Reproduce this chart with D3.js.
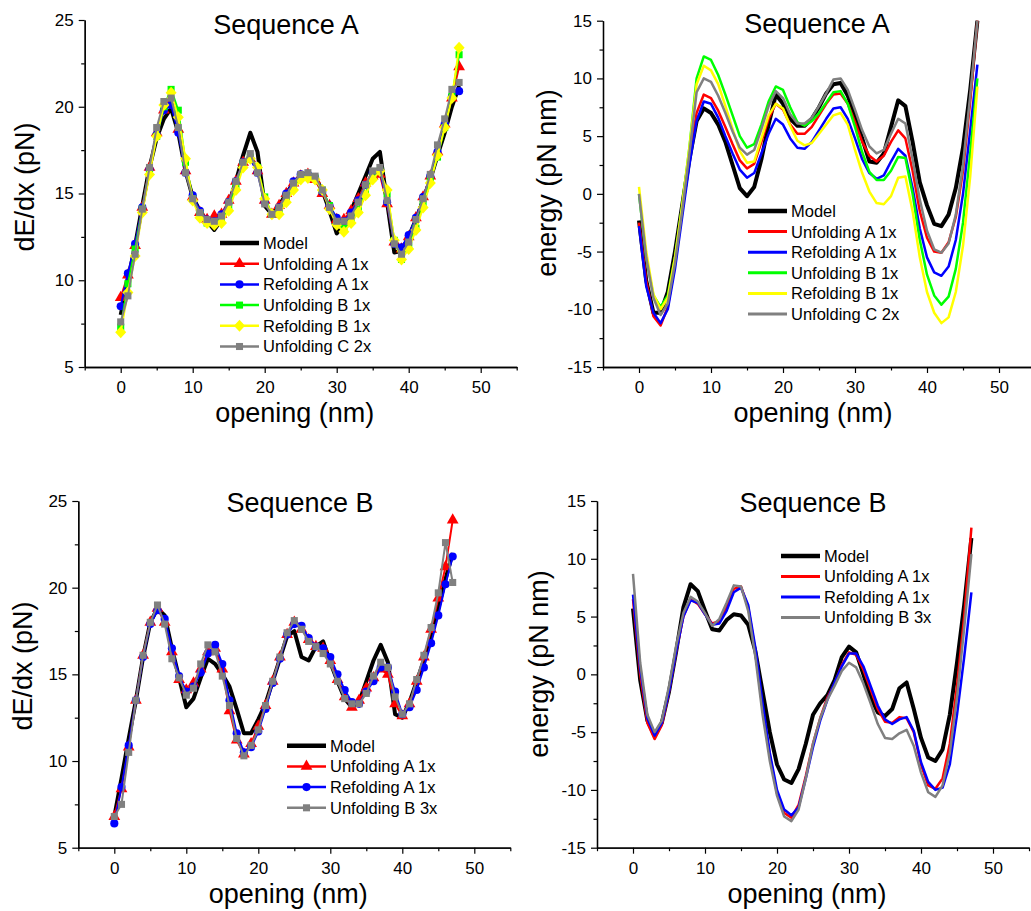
<!DOCTYPE html>
<html>
<head>
<meta charset="utf-8">
<script src="https://cdn.jsdelivr.net/npm/d3@7"></script>
<style>
  body { margin: 0; background: #fff; }
  svg { display: block; font-family: "Liberation Sans", Arial, sans-serif; }
</style>
</head>
<body>
<svg id="chart" width="1031" height="911"></svg>
<script>
// opening (nm), shared x values
var opening = [0,1,2,3,4,5,6,7,8,9,10,11,12,13,14,15,16,17,18,19,20,21,22,23,24,25,26,27,28,29,30,31,32,33,34,35,36,37,38,39,40,41,42,43,44,45,46,47];

var xTicks = [0, 10, 20, 30, 40, 50];
var forceTicks = [5, 10, 15, 20, 25];
var energyTicks = [-15, -10, -5, 0, 5, 10, 15];

// Sequence A, dE/dx (pN)
var seqA_force_model = [8.0,10.0,12.0,14.3,16.5,18.2,19.3,19.9,18.5,16.3,14.8,14.0,13.4,12.9,13.5,14.4,15.7,17.2,18.5,17.4,14.3,13.8,14.3,15.0,15.6,16.0,16.1,15.9,15.2,14.0,12.7,13.2,14.0,15.0,16.0,17.0,17.4,14.5,11.6,11.7,12.5,13.5,14.6,15.8,17.2,18.5,20.0,21.2];
var seqA_force_unfA = [9.0,10.3,12.0,14.2,16.5,18.5,19.8,20.3,18.7,16.3,14.8,13.9,13.5,13.7,13.8,14.6,15.7,16.8,17.0,16.3,14.6,13.8,14.3,15.0,15.6,16.0,16.1,15.8,15.0,14.3,13.5,13.5,14.0,14.7,15.6,16.0,16.1,14.4,12.2,11.8,12.5,13.6,14.8,16.0,17.4,19.0,20.5,22.3];
var seqA_force_refA = [8.5,10.4,12.1,14.2,16.4,18.4,19.8,20.1,18.5,16.2,14.9,14.0,13.5,13.4,13.8,14.5,15.7,16.8,17.0,16.2,14.5,13.8,14.2,15.0,15.7,16.1,16.1,15.9,15.1,14.3,13.6,13.4,13.9,14.6,15.5,16.2,16.3,14.5,12.1,11.9,12.6,13.6,14.8,16.0,17.4,19.0,20.6,20.9];
var seqA_force_unfB = [7.3,9.8,11.8,14.1,16.4,18.3,20.0,21.0,19.8,16.8,14.7,13.8,13.3,13.3,13.5,14.2,15.4,16.7,17.1,16.5,14.8,13.8,14.0,14.8,15.4,15.9,16.0,15.9,15.2,14.3,13.3,13.0,13.4,14.1,15.0,15.9,16.3,15.0,12.3,11.2,12.0,13.0,14.4,15.8,17.1,18.8,20.6,23.0];
var seqA_force_refB = [7.0,9.3,11.4,13.9,16.1,18.3,20.1,20.8,19.4,17.0,14.6,13.6,13.3,13.2,13.3,14.0,15.2,16.5,17.0,16.5,14.7,13.8,13.8,14.5,15.2,15.8,15.9,15.8,15.2,14.1,13.2,12.8,13.3,13.9,14.9,15.8,16.3,15.2,12.3,11.2,11.8,12.9,14.2,15.6,17.2,18.8,20.5,23.4];
var seqA_force_unfC = [7.6,9.1,11.5,14.1,16.5,18.8,20.3,20.5,18.8,16.2,14.7,13.9,13.5,13.4,13.7,14.5,15.7,16.8,17.3,16.2,14.4,13.8,14.2,14.9,15.6,16.1,16.2,16.0,15.2,14.2,13.4,13.4,13.7,14.5,15.5,16.3,16.5,14.6,12.1,11.5,12.2,13.5,14.7,16.1,17.8,19.3,21.0,21.4];

// Sequence A, energy (pN nm)
var seqA_energy_model = [-2.3,-7.5,-10.3,-10.3,-8.5,-5.0,-1.0,3.0,6.3,7.4,7.0,6.0,4.5,2.5,0.5,-0.2,0.6,3.0,6.0,8.6,7.8,6.5,5.9,5.9,6.5,7.5,8.7,9.5,9.6,8.5,6.8,4.8,2.8,2.7,3.5,5.8,8.1,7.6,4.5,1.0,-1.0,-2.6,-2.8,-1.8,0.5,4.0,9.0,15.0];
var seqA_energy_unfA = [-2.5,-7.5,-10.6,-11.4,-9.8,-6.0,-1.5,3.0,7.0,8.6,8.3,7.2,5.8,4.3,2.9,2.2,2.6,4.5,6.5,7.8,7.3,6.0,5.2,5.2,5.8,6.8,7.8,8.6,8.7,7.8,6.2,4.5,3.3,2.8,3.3,4.5,5.5,4.8,2.0,-1.5,-3.8,-5.0,-5.1,-4.2,-2.0,2.0,8.0,15.0];
var seqA_energy_refA = [-2.8,-8.0,-10.3,-11.2,-10.0,-6.5,-2.0,2.5,6.3,8.0,7.8,6.6,5.0,3.5,2.1,1.4,1.8,3.5,5.2,6.5,6.0,4.8,4.0,3.9,4.5,5.5,6.5,7.4,7.5,6.5,4.8,3.0,1.8,1.3,1.6,2.8,3.9,3.3,0.5,-3.0,-5.5,-6.8,-7.1,-6.3,-4.0,0.0,5.5,11.2];
var seqA_energy_unfB = [0.0,-5.5,-8.8,-9.8,-8.8,-5.5,-1.0,4.0,10.0,11.9,11.6,10.3,8.6,6.8,5.0,4.0,4.3,6.0,8.0,9.3,9.0,7.5,6.2,5.9,6.3,7.0,7.9,8.8,8.9,7.8,5.8,3.6,1.9,1.2,1.2,2.0,3.2,3.1,0.0,-4.0,-7.0,-8.8,-9.6,-8.9,-6.5,-2.5,3.5,10.0];
var seqA_energy_refB = [0.6,-5.0,-8.7,-10.0,-9.0,-5.5,-1.0,4.0,9.5,11.1,10.7,9.5,7.6,5.6,3.7,2.7,2.8,4.8,6.8,7.8,7.4,5.9,4.6,4.2,4.4,5.2,6.0,6.8,7.0,6.0,3.8,1.8,0.2,-0.8,-0.9,-0.2,1.4,1.5,-1.5,-5.5,-8.5,-10.3,-11.2,-10.7,-8.5,-4.5,1.5,9.3];
var seqA_energy_unfC = [0.0,-5.5,-9.0,-10.5,-9.5,-6.0,-1.5,3.5,8.8,10.0,9.7,8.5,7.0,5.4,4.0,3.4,3.8,5.6,7.6,8.9,8.3,6.9,6.1,6.1,6.6,7.6,8.7,9.9,10.0,9.0,7.3,5.5,4.1,3.5,3.8,5.2,6.5,6.1,3.0,-0.5,-3.2,-4.8,-5.1,-4.3,-1.8,2.5,8.5,15.0];

// Sequence B, dE/dx (pN)
var seqB_force_model = [6.8,9.0,11.3,13.5,16.0,18.0,18.8,18.4,16.5,14.8,13.1,13.6,14.8,15.9,15.6,15.0,14.3,13.0,11.6,11.6,12.4,13.3,14.6,15.9,17.2,17.5,16.0,15.8,16.6,16.9,15.7,14.6,13.6,13.1,13.4,14.6,15.8,16.7,15.7,12.7,12.5,13.4,14.6,15.8,17.2,18.8,20.5,22.0];
var seqB_force_unfA = [6.8,8.4,10.8,13.5,16.1,18.0,18.8,18.0,16.3,14.7,14.1,14.5,15.3,16.3,16.5,15.3,12.9,11.2,10.4,11.0,12.0,13.2,14.6,16.0,17.3,18.0,17.6,17.0,16.6,16.5,15.8,14.7,13.7,13.1,13.5,14.2,14.8,15.3,15.0,13.3,12.6,13.3,14.6,16.0,17.6,19.4,21.2,23.9];
var seqB_force_refA = [6.4,8.5,10.9,13.5,16.0,17.9,18.7,18.2,16.5,14.9,14.0,14.3,15.1,16.2,16.7,15.6,13.5,11.6,10.5,10.8,11.7,13.0,14.5,15.9,17.3,17.9,17.8,17.1,16.6,16.5,16.0,15.0,14.1,13.4,13.3,14.0,14.6,15.4,15.4,14.0,12.7,13.1,14.1,15.4,16.8,18.4,20.2,21.8];
var seqB_force_unfB = [6.8,7.5,10.5,13.5,16.1,18.0,19.0,17.9,15.9,14.8,13.8,14.2,15.6,16.7,16.3,14.9,13.2,11.3,10.3,10.9,11.8,13.2,14.6,16.0,17.4,18.1,17.6,16.9,16.6,16.2,15.6,14.6,13.6,13.3,13.3,13.9,14.9,15.7,15.4,13.7,12.7,13.3,14.7,16.1,17.7,19.7,22.6,20.3];

// Sequence B, energy (pN nm)
var seqB_energy_model = [5.7,-0.5,-4.0,-5.3,-4.2,-1.5,2.0,5.8,7.8,7.2,5.5,3.9,3.8,4.7,5.2,5.1,4.3,2.0,-1.5,-5.0,-7.8,-9.1,-9.4,-8.2,-6.0,-3.5,-2.5,-1.8,-0.5,1.5,2.4,1.9,0.0,-2.0,-3.3,-3.6,-3.0,-1.2,-0.7,-3.0,-5.5,-7.2,-7.5,-6.5,-3.5,1.0,6.0,11.8];
var seqB_energy_unfA = [6.5,0.0,-4.2,-5.6,-4.4,-1.5,2.0,5.0,6.5,6.1,5.2,4.4,4.6,5.8,7.4,7.6,5.8,2.0,-3.0,-7.0,-10.3,-12.0,-12.4,-11.3,-8.8,-6.0,-3.8,-2.0,-0.8,0.8,1.9,1.7,0.4,-1.3,-3.0,-4.1,-4.2,-3.7,-3.8,-5.0,-7.8,-9.6,-9.9,-9.0,-6.0,-1.0,5.0,12.7];
var seqB_energy_refA = [6.9,0.5,-3.8,-5.3,-4.2,-1.5,2.0,5.0,6.4,6.2,5.2,4.3,4.4,5.5,7.1,7.5,6.0,2.3,-2.5,-6.8,-10.0,-11.7,-12.2,-11.5,-9.0,-6.3,-4.0,-2.2,-0.7,0.7,1.8,1.8,0.7,-1.0,-2.7,-3.9,-4.3,-3.9,-3.7,-4.9,-7.6,-9.3,-10.0,-9.8,-7.8,-3.5,1.5,7.1];
var seqB_energy_unfB = [8.7,1.0,-3.5,-5.0,-4.0,-1.0,2.5,5.3,6.7,6.3,5.3,4.2,4.8,6.2,7.7,7.6,5.5,1.5,-3.5,-7.5,-10.5,-12.3,-12.7,-11.7,-9.0,-6.0,-3.8,-2.2,-1.0,0.3,1.0,0.6,-0.8,-2.5,-4.3,-5.5,-5.6,-5.1,-4.8,-6.2,-8.5,-10.2,-10.6,-9.6,-6.8,-2.0,4.0,10.4];

var svg = d3.select("#chart");

// diamond like the plotting program's, wider than d3.symbolDiamond
function markerPath(kind) {
  if (kind == "diamond") return "M0,-6L5.5,0L0,6L-5.5,0Z";
  var sym = { triangle: d3.symbolTriangle, circle: d3.symbolCircle, square: d3.symbolSquare }[kind];
  var size = { triangle: 60, circle: 52, square: 50 }[kind];
  return d3.symbol().type(sym).size(size)();
}

function drawPanel(p) {
  var x = d3.scaleLinear().domain([-5, 55]).range([p.left, p.left + 432]);
  var y = d3.scaleLinear().domain(p.yDomain).range([p.bottom, p.top]);
  var g = svg.append("g");

  // minor ticks first, then the majors with labels
  var minorX = [];
  for (var v = -5; v <= 55; v += 5) if (xTicks.indexOf(v) < 0) minorX.push(v);
  var minorY = [];
  for (var w = p.yDomain[0]; w <= p.yDomain[1]; w += 2.5) if (p.yTicks.indexOf(w) < 0) minorY.push(w);

  g.append("g").attr("transform", "translate(0," + p.bottom + ")")
    .call(d3.axisBottom(x).tickValues(minorX).tickSize(3.5).tickFormat("").tickSizeOuter(0));
  g.append("g").attr("transform", "translate(" + p.left + ",0)")
    .call(d3.axisLeft(y).tickValues(minorY).tickSize(3.5).tickFormat("").tickSizeOuter(0));

  var xa = g.append("g").attr("transform", "translate(0," + p.bottom + ")")
    .call(d3.axisBottom(x).tickValues(xTicks).tickSize(6).tickPadding(8)
      .tickFormat(function(d) { return String(d); }).tickSizeOuter(0));
  var ya = g.append("g").attr("transform", "translate(" + p.left + ",0)")
    .call(d3.axisLeft(y).tickValues(p.yTicks).tickSize(6).tickPadding(5)
      .tickFormat(function(d) { return String(d); }).tickSizeOuter(0));
  g.selectAll(".domain").attr("stroke", "#000").attr("stroke-width", 1.3);
  g.selectAll(".tick line").attr("stroke", "#000").attr("stroke-width", 1.2);
  xa.selectAll("text").attr("font-size", 17).attr("font-family", "Liberation Sans, Arial").attr("fill", "#000");
  ya.selectAll("text").attr("font-size", 17).attr("font-family", "Liberation Sans, Arial").attr("fill", "#000");

  // titles
  g.append("text").attr("x", p.titleX).attr("y", p.titleY)
    .attr("text-anchor", "middle").attr("font-size", 27).text(p.title);
  g.append("text").attr("x", (p.left + p.left + 432) / 2 - 6).attr("y", p.bottom + 55)
    .attr("text-anchor", "middle").attr("font-size", 27).text("opening (nm)");
  g.append("text")
    .attr("transform", "translate(" + p.yLabelX + "," + p.yLabelY + ") rotate(-90)")
    .attr("text-anchor", "middle").attr("font-size", 27).text(p.yLabel);

  var line = d3.line()
    .x(function(d, i) { return x(opening[i]); })
    .y(function(d) { return y(d); });

  p.series.forEach(function(s) {
    g.append("path").datum(s.values)
      .attr("d", line)
      .attr("fill", "none")
      .attr("stroke", s.color)
      .attr("stroke-width", s.width)
      .attr("stroke-linejoin", "round");
    if (s.marker) {
      g.selectAll(null).data(s.values).enter().append("path")
        .attr("d", markerPath(s.marker))
        .attr("transform", function(d, i) { return "translate(" + x(opening[i]) + "," + y(d) + ")"; })
        .attr("fill", s.color);
    }
  });

  // legend
  p.series.forEach(function(s, i) {
    var ly = p.legendY + i * p.legendStep;
    g.append("line")
      .attr("x1", p.legendX).attr("x2", p.legendX + 39)
      .attr("y1", ly).attr("y2", ly)
      .attr("stroke", s.color).attr("stroke-width", s.width + 0.5);
    if (s.marker) {
      g.append("path").attr("d", markerPath(s.marker))
        .attr("transform", "translate(" + (p.legendX + 19.5) + "," + ly + ")")
        .attr("fill", s.color);
    }
    g.append("text").attr("x", p.legendX + 43).attr("y", ly).attr("dy", "0.36em")
      .attr("font-size", 16.5).text(s.name);
  });
}

drawPanel({
  left: 84.7, top: 20, bottom: 367, yDomain: [5, 25], yTicks: forceTicks,
  title: "Sequence A", titleX: 286, titleY: 34,
  yLabel: "dE/dx (pN)", yLabelX: 34, yLabelY: 187,
  legendX: 220, legendY: 243, legendStep: 20.7,
  series: [
    { name: "Model", values: seqA_force_model, color: "#000", width: 4 },
    { name: "Unfolding A 1x", values: seqA_force_unfA, color: "#ff0000", width: 2, marker: "triangle" },
    { name: "Refolding A 1x", values: seqA_force_refA, color: "#0000ff", width: 2, marker: "circle" },
    { name: "Unfolding B 1x", values: seqA_force_unfB, color: "#00ff00", width: 2, marker: "square" },
    { name: "Refolding B 1x", values: seqA_force_refB, color: "#ffff00", width: 2, marker: "diamond" },
    { name: "Unfolding C 2x", values: seqA_force_unfC, color: "#808080", width: 2, marker: "square" }
  ]
});

drawPanel({
  left: 603, top: 20.7, bottom: 367, yDomain: [-15, 15], yTicks: energyTicks,
  title: "Sequence A", titleX: 817, titleY: 33,
  yLabel: "energy (pN nm)", yLabelX: 556, yLabelY: 183,
  legendX: 748, legendY: 211, legendStep: 20.6,
  series: [
    { name: "Model", values: seqA_energy_model, color: "#000", width: 4 },
    { name: "Unfolding A 1x", values: seqA_energy_unfA, color: "#ff0000", width: 2.5 },
    { name: "Refolding A 1x", values: seqA_energy_refA, color: "#0000ff", width: 2.5 },
    { name: "Unfolding B 1x", values: seqA_energy_unfB, color: "#00ff00", width: 2.5 },
    { name: "Refolding B 1x", values: seqA_energy_refB, color: "#ffff00", width: 2.5 },
    { name: "Unfolding C 2x", values: seqA_energy_unfC, color: "#808080", width: 2.5 }
  ]
});

drawPanel({
  left: 78.3, top: 501, bottom: 847.7, yDomain: [5, 25], yTicks: forceTicks,
  title: "Sequence B", titleX: 300, titleY: 512,
  yLabel: "dE/dx (pN)", yLabelX: 32, yLabelY: 666,
  legendX: 287, legendY: 745.7, legendStep: 20.7,
  series: [
    { name: "Model", values: seqB_force_model, color: "#000", width: 4 },
    { name: "Unfolding A 1x", values: seqB_force_unfA, color: "#ff0000", width: 2, marker: "triangle" },
    { name: "Refolding A 1x", values: seqB_force_refA, color: "#0000ff", width: 2, marker: "circle" },
    { name: "Unfolding B 3x", values: seqB_force_unfB, color: "#808080", width: 2, marker: "square" }
  ]
});

drawPanel({
  left: 597, top: 501, bottom: 847.7, yDomain: [-15, 15], yTicks: energyTicks,
  title: "Sequence B", titleX: 813, titleY: 512,
  yLabel: "energy (pN nm)", yLabelX: 548, yLabelY: 664,
  legendX: 781, legendY: 556, legendStep: 20.5,
  series: [
    { name: "Model", values: seqB_energy_model, color: "#000", width: 4 },
    { name: "Unfolding A 1x", values: seqB_energy_unfA, color: "#ff0000", width: 2.5 },
    { name: "Refolding A 1x", values: seqB_energy_refA, color: "#0000ff", width: 2.5 },
    { name: "Unfolding B 3x", values: seqB_energy_unfB, color: "#808080", width: 2.5 }
  ]
});
</script>
</body>
</html>
